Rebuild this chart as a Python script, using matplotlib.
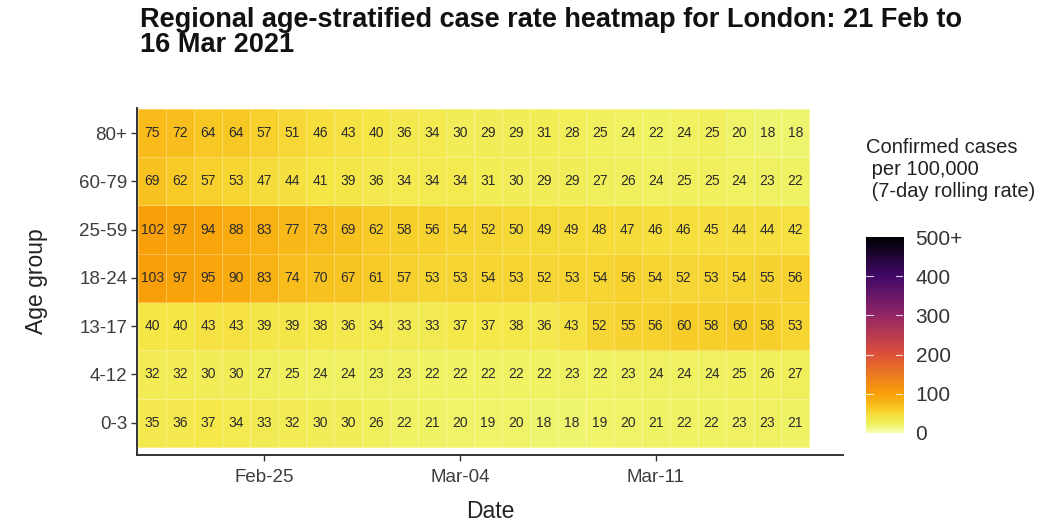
import numpy as np
import pandas as pd
import matplotlib
matplotlib.use("Agg")
import matplotlib.pyplot as plt
from matplotlib.colors import Normalize, LinearSegmentedColormap

plt.rcParams['font.family'] = ['Liberation Sans', 'DejaVu Sans']

# ---- data ----
dates = pd.date_range("2021-02-21", "2021-03-16", freq="D")
age_groups = ["0-3", "4-12", "13-17", "18-24", "25-59", "60-79", "80+"]

rate_0_3 = [35, 36, 37, 34, 33, 32, 30, 30, 26, 22, 21, 20, 19, 20, 18, 18, 19, 20, 21, 22, 22, 23, 23, 21]
rate_4_12 = [32, 32, 30, 30, 27, 25, 24, 24, 23, 23, 22, 22, 22, 22, 22, 23, 22, 23, 24, 24, 24, 25, 26, 27]
rate_13_17 = [40, 40, 43, 43, 39, 39, 38, 36, 34, 33, 33, 37, 37, 38, 36, 43, 52, 55, 56, 60, 58, 60, 58, 53]
rate_18_24 = [103, 97, 95, 90, 83, 74, 70, 67, 61, 57, 53, 53, 54, 53, 52, 53, 54, 56, 54, 52, 53, 54, 55, 56]
rate_25_59 = [102, 97, 94, 88, 83, 77, 73, 69, 62, 58, 56, 54, 52, 50, 49, 49, 48, 47, 46, 46, 45, 44, 44, 42]
rate_60_79 = [69, 62, 57, 53, 47, 44, 41, 39, 36, 34, 34, 34, 31, 30, 29, 29, 27, 26, 24, 25, 25, 24, 23, 22]
rate_80 = [75, 72, 64, 64, 57, 51, 46, 43, 40, 36, 34, 30, 29, 29, 31, 28, 25, 24, 22, 24, 25, 20, 18, 18]

tick_dates = ["2021-02-25", "2021-03-04", "2021-03-11"]
cbar_ticks = [0, 100, 200, 300, 400, 500]
cbar_labels = ["0", "100", "200", "300", "400", "500+"]

values = np.array([rate_0_3, rate_4_12, rate_13_17, rate_18_24, rate_25_59, rate_60_79, rate_80])

# colour scale (inferno-like, reversed)
scale_stops = [0, 20, 40, 60, 80, 100, 200, 300, 400, 500]
scale_colors = ["#FAFDB4", "#EEF366", "#F5E545", "#F7CC28", "#F8B414",
                "#F9A008", "#DD513A", "#932667", "#420A68", "#000004"]

# ---- figure ----
W, H = 1063, 524
fig = plt.figure(figsize=(W / 100, H / 100), dpi=100)
ax = fig.add_axes([137 / W, 1 - 455 / H, (843 - 137) / W, (455 - 108) / H])

vmax = scale_stops[-1]
cmap = LinearSegmentedColormap.from_list(
    "cases", [(s / vmax, c) for s, c in zip(scale_stops, scale_colors)], N=512)
norm = Normalize(vmin=0, vmax=vmax)
n_d, n_a = len(dates), len(age_groups)
xe = np.arange(n_d + 1) - 0.5
ye = np.arange(n_a + 1) - 0.5
ax.pcolormesh(xe, ye, values, cmap=cmap, norm=norm,
              edgecolor=(1, 1, 1, 0.3), linewidth=0.6)

for i in range(n_a):
    for j in range(n_d):
        ax.text(j, i, str(values[i, j]), ha="center", va="center",
                fontsize=10, color="#2b2b2b")

ax.set_xlim(-0.55, 24.7)
ax.set_ylim(-0.67, 6.52)
ax.set_yticks(range(n_a))
ax.set_yticklabels(age_groups)
tick_idx = [list(dates.strftime("%Y-%m-%d")).index(d) for d in tick_dates]
ax.set_xticks(tick_idx)
ax.set_xticklabels([dates[k].strftime("%b-%d") for k in tick_idx])

for s in ["top", "right"]:
    ax.spines[s].set_visible(False)
for s in ["left", "bottom"]:
    ax.spines[s].set_color("#333333")
    ax.spines[s].set_linewidth(1.4)
ax.tick_params(axis="both", length=4, width=1, color="#333333",
               labelsize=13.5, labelcolor="#3d3d3d", pad=3)
ax.tick_params(axis="x", pad=6)
ax.set_xlabel("Date", fontsize=16.5, color="#222222", labelpad=10)
ax.set_ylabel("Age group", fontsize=16.5, color="#222222", labelpad=22)

# title
fig.text(140 / W, 1 - 7 / H,
         "Regional age-stratified case rate heatmap for London: 21 Feb to\n16 Mar 2021",
         ha="left", va="top", fontsize=19.5, fontweight="bold", linespacing=0.95,
         color="#111111")

# colorbar
cax = fig.add_axes([866 / W, 1 - 433 / H, 37 / W, (433 - 237) / H])
grad = np.linspace(0, vmax, 400).reshape(-1, 1)
cax.imshow(grad, aspect="auto", cmap=cmap, norm=norm, origin="lower",
           extent=[0, 1, 0, vmax])
cax.set_xlim(0, 1)
cax.set_ylim(0, vmax)
cax.set_xticks([])
cax.yaxis.tick_right()
cax.set_yticks(cbar_ticks)
cax.set_yticklabels(cbar_labels)
cax.tick_params(axis="y", length=0, labelsize=15, labelcolor="#333333", pad=9)
for s in cax.spines.values():
    s.set_visible(False)
for t in cbar_ticks[1:-1]:
    cax.plot([0, 0.18], [t, t], color="white", lw=0.8, alpha=0.8)
    cax.plot([0.82, 1], [t, t], color="white", lw=0.8, alpha=0.8)

fig.text(866 / W, 1 - 138 / H,
         "Confirmed cases\n per 100,000\n (7-day rolling rate)",
         ha="left", va="top", fontsize=14.5, color="#222222", linespacing=1.2)

fig.savefig("out.png", dpi=100, facecolor="white")
